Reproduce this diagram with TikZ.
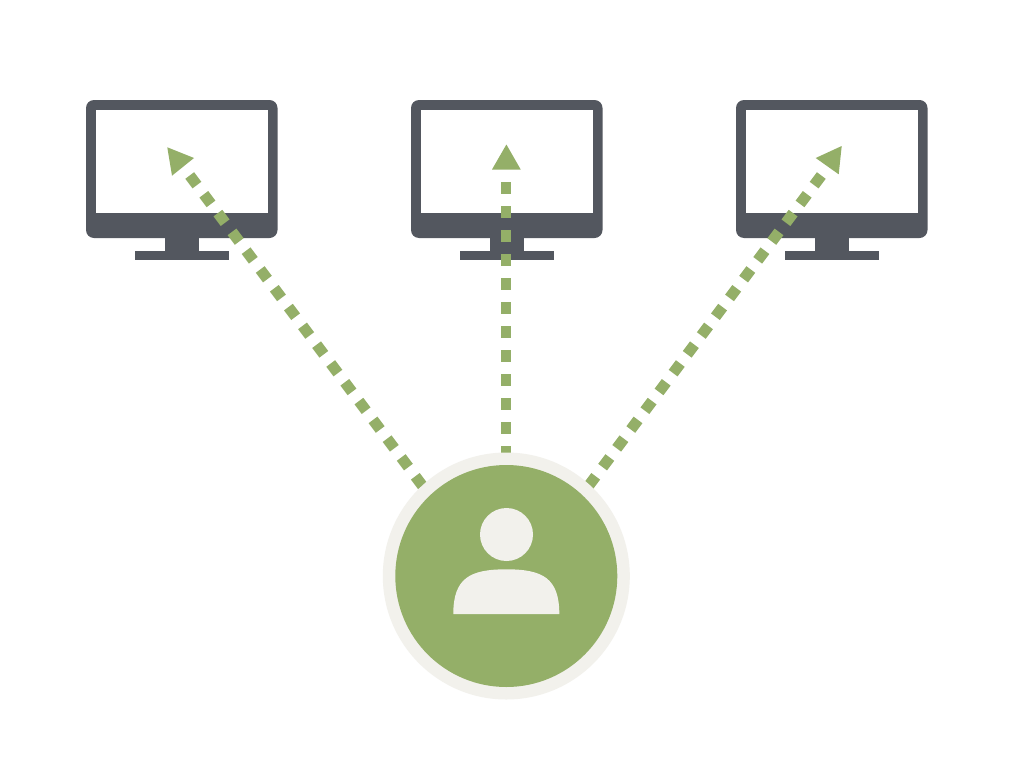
\documentclass[tikz,border=0pt]{standalone}
\usetikzlibrary{calc}
\definecolor{leaf}{HTML}{94AF68}
\definecolor{slate}{HTML}{53575F}
\definecolor{bone}{HTML}{F2F1EC}
\tikzset{
  x=1pt,y=-1pt,
  monitor/.pic={
    \fill[slate,rounded corners=8pt] (0,0) rectangle (191.5,138);
    \fill[slate] (78.5,130) rectangle (112.5,155);
    \fill[slate] (48.5,151) rectangle (143,159.5);
    \fill[white] (9.5,10) rectangle (182,113);
  },
  dots/.style={draw=leaf,line width=11pt,dash pattern=on 12pt off 11.5pt},
  dotsv/.style={draw=leaf,line width=10pt,dash pattern=on 12pt off 12pt},
  head/.style={fill=leaf,draw=none},
  ring/.style={circle,fill=bone,inner sep=0pt,minimum size=247pt},
  disc/.style={circle,fill=leaf,inner sep=0pt,minimum size=222pt},
  crown/.style={circle,fill=bone,inner sep=0pt,minimum size=53pt}
}
\begin{document}
\begin{tikzpicture}
\useasboundingbox (0,0) rectangle (1024,768);
\fill[white] (0,0) rectangle (1024,768);
\pic at (86,100) {monitor};
\pic at (411,100) {monitor};
\pic at (736,100) {monitor};
% connector ends
\coordinate (startL) at (189.7,175.5);
\coordinate (endL) at (432.1,498.7);
\coordinate (startM) at (506,182);
\coordinate (endM) at (506,500);
\coordinate (startR) at (821.3,175.5);
\coordinate (endR) at (578.9,498.7);
\draw[dots] (startL) -- (endL);
\draw[dotsv] (startM) -- (endM);
\draw[dots] (startR) -- (endR);
% arrowheads
\fill[head] (167.3,147.3) -- (194,158) -- (172,175.7) -- cycle;
\fill[head] (506.4,144.5) -- (520.7,169.5) -- (492,169.5) -- cycle;
\fill[head] (841.7,146) -- (838.7,174.3) -- (815.7,158) -- cycle;
% user
\node[ring] (userring) at (506.3,576) {};
\node[disc] (userdisc) at (506.3,576) {};
\node[crown] (userhead) at (506.5,534.5) {};
\fill[bone] (453.3,614) .. controls (453.3,578) and (470,569.3) .. (506.3,569.3)
  .. controls (542.6,569.3) and (559.3,578) .. (559.3,614) -- cycle;
\end{tikzpicture}
\end{document}
